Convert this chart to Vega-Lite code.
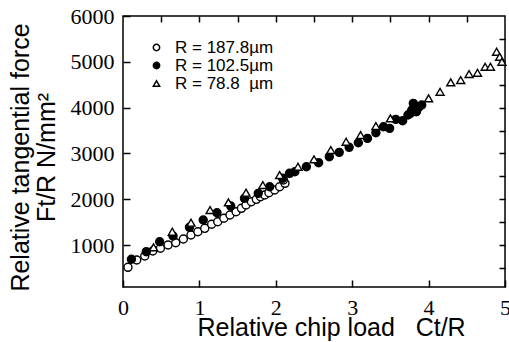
{
 "$schema": "https://vega.github.io/schema/vega-lite/v6.json",
 "width": 382, "height": 271,
 "autosize": {"type": "none"},
 "padding": {"left": 123, "top": 16, "right": 4, "bottom": 55},
 "background": "white",
 "config": {
  "view": {"stroke": "black", "strokeWidth": 1.5}
 },
 "data": {"values": [
   {"s": "R = 187.8µm", "x": 0.065, "y": 513}, {"s": "R = 187.8µm", "x": 0.18, "y": 672}, {"s": "R = 187.8µm", "x": 0.285, "y": 760},
   {"s": "R = 187.8µm", "x": 0.39, "y": 869}, {"s": "R = 187.8µm", "x": 0.49, "y": 928}, {"s": "R = 187.8µm", "x": 0.59, "y": 1000},
   {"s": "R = 187.8µm", "x": 0.69, "y": 1050}, {"s": "R = 187.8µm", "x": 0.79, "y": 1131}, {"s": "R = 187.8µm", "x": 0.89, "y": 1218},
   {"s": "R = 187.8µm", "x": 0.98, "y": 1290}, {"s": "R = 187.8µm", "x": 1.07, "y": 1364}, {"s": "R = 187.8µm", "x": 1.16, "y": 1452},
   {"s": "R = 187.8µm", "x": 1.24, "y": 1508}, {"s": "R = 187.8µm", "x": 1.32, "y": 1583}, {"s": "R = 187.8µm", "x": 1.40, "y": 1655},
   {"s": "R = 187.8µm", "x": 1.48, "y": 1727}, {"s": "R = 187.8µm", "x": 1.55, "y": 1801}, {"s": "R = 187.8µm", "x": 1.61, "y": 1873},
   {"s": "R = 187.8µm", "x": 1.68, "y": 1945}, {"s": "R = 187.8µm", "x": 1.745, "y": 1997}, {"s": "R = 187.8µm", "x": 1.80, "y": 2054},
   {"s": "R = 187.8µm", "x": 1.855, "y": 2091}, {"s": "R = 187.8µm", "x": 1.91, "y": 2142}, {"s": "R = 187.8µm", "x": 1.985, "y": 2200},
   {"s": "R = 187.8µm", "x": 2.05, "y": 2272}, {"s": "R = 187.8µm", "x": 2.12, "y": 2347}, {"s": "R = 187.8µm", "x": 2.1, "y": 2420},
   {"s": "R = 102.5µm", "x": 0.11, "y": 688}, {"s": "R = 102.5µm", "x": 0.305, "y": 854}, {"s": "R = 102.5µm", "x": 0.48, "y": 1072},
   {"s": "R = 102.5µm", "x": 0.655, "y": 1196}, {"s": "R = 102.5µm", "x": 0.87, "y": 1386}, {"s": "R = 102.5µm", "x": 1.05, "y": 1546},
   {"s": "R = 102.5µm", "x": 1.23, "y": 1705}, {"s": "R = 102.5µm", "x": 1.41, "y": 1850}, {"s": "R = 102.5µm", "x": 1.59, "y": 2019},
   {"s": "R = 102.5µm", "x": 1.77, "y": 2128}, {"s": "R = 102.5µm", "x": 1.92, "y": 2272}, {"s": "R = 102.5µm", "x": 2.09, "y": 2456},
   {"s": "R = 102.5µm", "x": 2.18, "y": 2565}, {"s": "R = 102.5µm", "x": 2.25, "y": 2600}, {"s": "R = 102.5µm", "x": 2.40, "y": 2709},
   {"s": "R = 102.5µm", "x": 2.56, "y": 2797}, {"s": "R = 102.5µm", "x": 2.70, "y": 2928}, {"s": "R = 102.5µm", "x": 2.83, "y": 3023},
   {"s": "R = 102.5µm", "x": 2.96, "y": 3133}, {"s": "R = 102.5µm", "x": 3.08, "y": 3233}, {"s": "R = 102.5µm", "x": 3.20, "y": 3329},
   {"s": "R = 102.5µm", "x": 3.31, "y": 3452}, {"s": "R = 102.5µm", "x": 3.41, "y": 3582}, {"s": "R = 102.5µm", "x": 3.49, "y": 3547},
   {"s": "R = 102.5µm", "x": 3.57, "y": 3744}, {"s": "R = 102.5µm", "x": 3.66, "y": 3713}, {"s": "R = 102.5µm", "x": 3.73, "y": 3838},
   {"s": "R = 102.5µm", "x": 3.76, "y": 3875}, {"s": "R = 102.5µm", "x": 3.78, "y": 3947}, {"s": "R = 102.5µm", "x": 3.80, "y": 4093},
   {"s": "R = 102.5µm", "x": 3.82, "y": 4034}, {"s": "R = 102.5µm", "x": 3.84, "y": 3910}, {"s": "R = 102.5µm", "x": 3.87, "y": 4006},
   {"s": "R = 102.5µm", "x": 3.91, "y": 4056},
   {"s": "R = 78.8\u00a0\u00a0µm", "x": 0.4, "y": 950}, {"s": "R = 78.8\u00a0\u00a0µm", "x": 0.645, "y": 1290}, {"s": "R = 78.8\u00a0\u00a0µm", "x": 0.89, "y": 1487},
   {"s": "R = 78.8\u00a0\u00a0µm", "x": 1.14, "y": 1764}, {"s": "R = 78.8\u00a0\u00a0µm", "x": 1.38, "y": 1932}, {"s": "R = 78.8\u00a0\u00a0µm", "x": 1.61, "y": 2142},
   {"s": "R = 78.8\u00a0\u00a0µm", "x": 1.83, "y": 2310}, {"s": "R = 78.8\u00a0\u00a0µm", "x": 2.05, "y": 2528}, {"s": "R = 78.8\u00a0\u00a0µm", "x": 2.29, "y": 2709},
   {"s": "R = 78.8\u00a0\u00a0µm", "x": 2.50, "y": 2871}, {"s": "R = 78.8\u00a0\u00a0µm", "x": 2.72, "y": 3074}, {"s": "R = 78.8\u00a0\u00a0µm", "x": 2.92, "y": 3255},
   {"s": "R = 78.8\u00a0\u00a0µm", "x": 3.11, "y": 3401}, {"s": "R = 78.8\u00a0\u00a0µm", "x": 3.31, "y": 3598}, {"s": "R = 78.8\u00a0\u00a0µm", "x": 3.50, "y": 3766},
   {"s": "R = 78.8\u00a0\u00a0µm", "x": 4.00, "y": 4202}, {"s": "R = 78.8\u00a0\u00a0µm", "x": 4.15, "y": 4346}, {"s": "R = 78.8\u00a0\u00a0µm", "x": 4.29, "y": 4552},
   {"s": "R = 78.8\u00a0\u00a0µm", "x": 4.42, "y": 4602}, {"s": "R = 78.8\u00a0\u00a0µm", "x": 4.53, "y": 4733}, {"s": "R = 78.8\u00a0\u00a0µm", "x": 4.64, "y": 4761},
   {"s": "R = 78.8\u00a0\u00a0µm", "x": 4.74, "y": 4892}, {"s": "R = 78.8\u00a0\u00a0µm", "x": 4.81, "y": 4892}, {"s": "R = 78.8\u00a0\u00a0µm", "x": 4.89, "y": 5220},
   {"s": "R = 78.8\u00a0\u00a0µm", "x": 4.93, "y": 5110}, {"s": "R = 78.8\u00a0\u00a0µm", "x": 4.96, "y": 5001}
 ]},
 "layer": [
  {
   "mark": {"type": "point", "filled": true, "stroke": "black", "strokeWidth": 1.4, "size": 64, "opacity": 1},
   "encoding": {
    "x": {"field": "x", "type": "quantitative", "scale": {"domain": [0, 5], "nice": false},
     "axis": {"values": [0, 1, 2, 3, 4, 5], "format": "d",
      "domain": false, "ticks": true, "tickSize": -7, "tickColor": "black", "tickWidth": 1.5, "gridOpacity": 0,
      "labelFont": "Liberation Serif", "labelFontSize": 22, "labelColor": "black", "labelPadding": 17, "labelFlush": false,
      "title": "Relative chip load\u00a0\u00a0\u00a0Ct/R", "titleFont": "Liberation Sans", "titleFontSize": 25, "titleFontWeight": "normal", "titleColor": "black",
      "titleX": 74, "titleY": 48, "titleAlign": "left", "titleBaseline": "alphabetic"}},
    "y": {"field": "y", "type": "quantitative", "scale": {"domain": [83, 6000], "nice": false},
     "axis": {"values": [1000, 2000, 3000, 4000, 5000, 6000], "format": "d",
      "domain": false, "ticks": true, "tickSize": -7, "tickColor": "black", "tickWidth": 1.5, "gridOpacity": 0,
      "labelFont": "Liberation Serif", "labelFontSize": 22, "labelColor": "black", "labelPadding": 16, "labelFlush": false,
      "title": ["Relative tangential force", "Ft/R N/mm²"], "titleFont": "Liberation Sans", "titleFontSize": 25, "titleFontWeight": "normal", "titleColor": "black",
      "titleAngle": -90, "titleX": -103, "titleY": 141, "titleAlign": "center", "titleBaseline": "middle", "titleLineHeight": 26}},
    "shape": {"field": "s", "type": "nominal",
     "scale": {"domain": ["R = 187.8µm", "R = 102.5µm", "R = 78.8\u00a0\u00a0µm"], "range": ["circle", "circle", "triangle-up"]},
     "legend": {"orient": "none", "legendX": 25, "legendY": 23, "title": null, "labelFont": "Liberation Sans", "labelFontSize": 17,
      "symbolSize": 40, "labelOffset": 10, "rowPadding": 0, "padding": 0,
      "encode": {"symbols": {"update": {"stroke": {"value": "black"}, "strokeWidth": {"value": 1.3}}}}}},
    "fill": {"field": "s", "type": "nominal",
     "scale": {"domain": ["R = 187.8µm", "R = 102.5µm", "R = 78.8\u00a0\u00a0µm"], "range": ["white", "black", "white"]},
     "legend": {"orient": "none", "legendX": 25, "legendY": 23, "title": null, "labelFont": "Liberation Sans", "labelFontSize": 17,
      "symbolSize": 40, "labelOffset": 10, "rowPadding": 0, "padding": 0,
      "encode": {"symbols": {"update": {"stroke": {"value": "black"}, "strokeWidth": {"value": 1.3}}}}}}
   }
  },
  {
   "mark": {"type": "point", "opacity": 0},
   "encoding": {
    "x": {"field": "x", "type": "quantitative",
     "axis": {"orient": "top", "values": [0.5, 1, 1.5, 2, 2.5, 3, 3.5, 4, 4.5], "labels": false, "title": null, "gridOpacity": 0, "domain": false, "ticks": true, "tickSize": -6, "tickColor": "black", "tickWidth": 1.5}},
    "y": {"field": "y", "type": "quantitative",
     "axis": {"orient": "right", "values": [500, 1000, 1500, 2000, 2500, 3000, 3500, 4000, 4500, 5000, 5500], "labels": false, "title": null, "gridOpacity": 0, "domain": false, "ticks": true, "tickSize": -6, "tickColor": "black", "tickWidth": 1.5}}
   }
  }
 ],
 "resolve": {"axis": {"x": "independent", "y": "independent"}}
}
